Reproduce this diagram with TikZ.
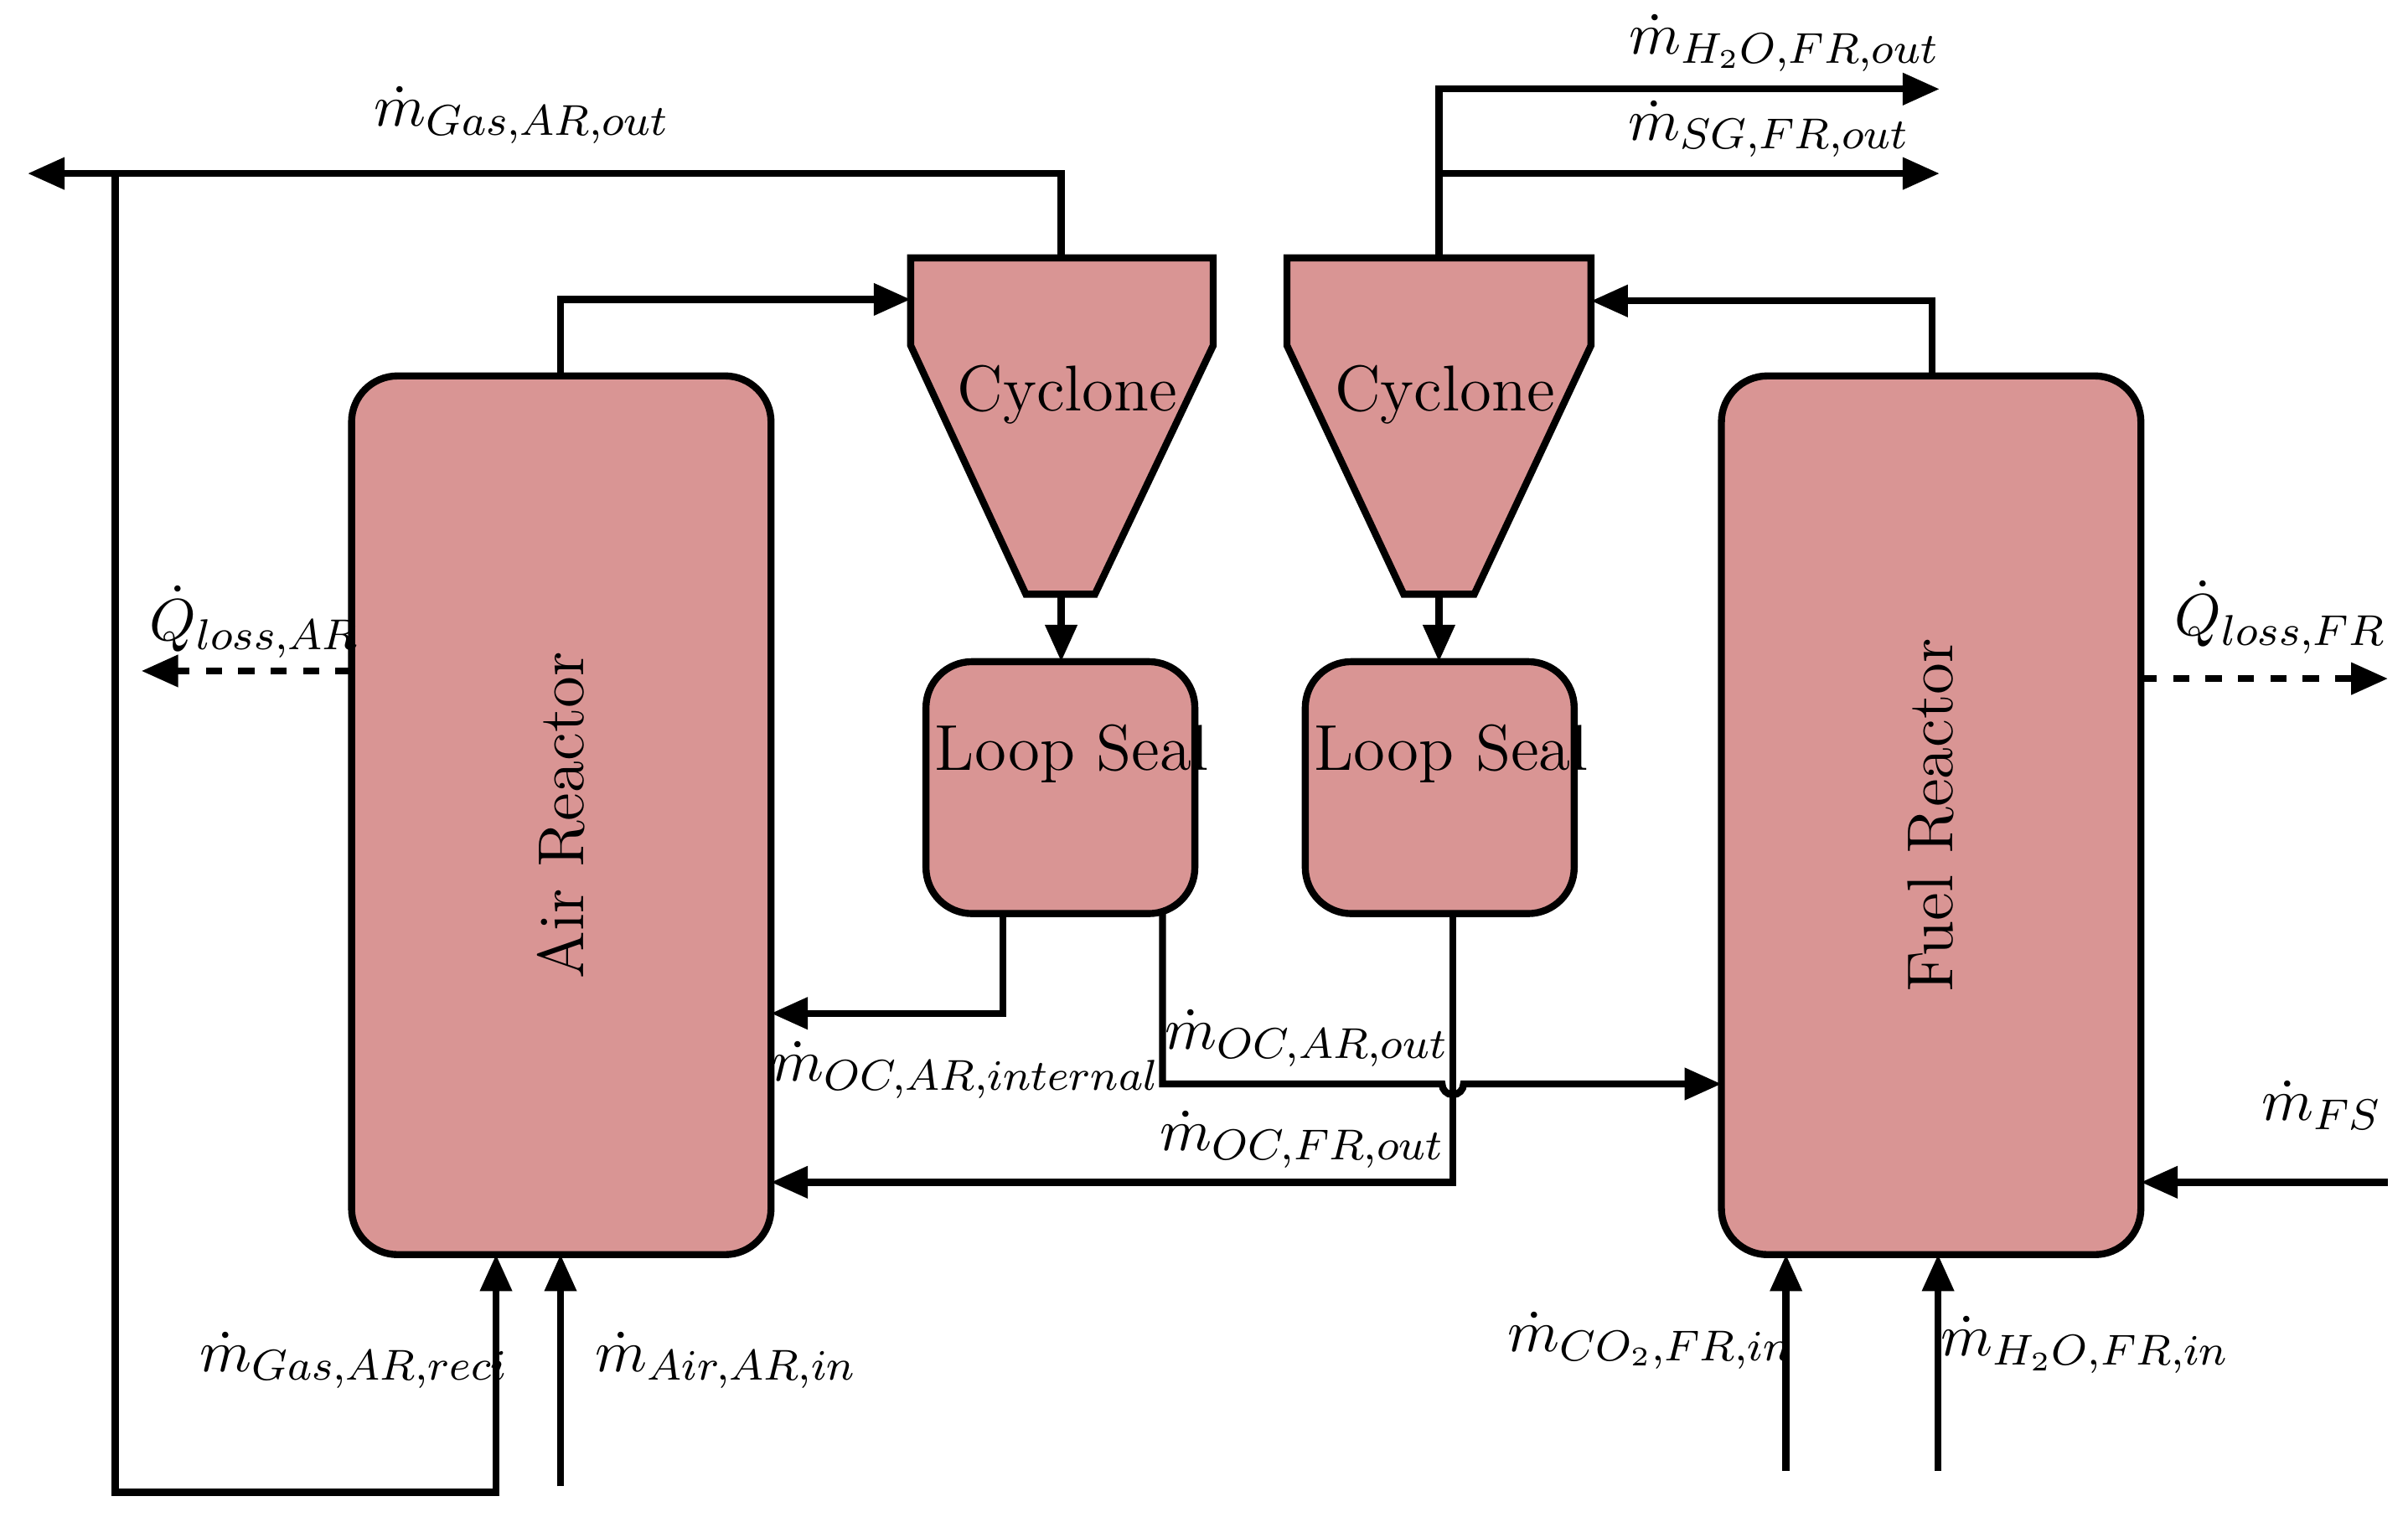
\documentclass[tikz,border=0pt]{standalone}
\usepackage{amsmath}
\usetikzlibrary{arrows.meta}
\begin{document}
\begin{tikzpicture}[x=0.01cm,y=-0.01cm,
  blk/.style={draw,line width=1.3pt,fill=rc,rounded corners=0.3cm},
  ln/.style={line width=1.3pt},
  ar/.style={line width=1.3pt,-{Triangle[length=0.24cm,width=0.2cm]}},
  lb/.style={font=\fontsize{11}{13}\selectfont},
  tx/.style={font=\fontsize{12}{14}\selectfont}]
\definecolor{rc}{HTML}{D99594}
\useasboundingbox (0,0) rectangle (1568,988);
% reactors
\node[blk,minimum width=2.73cm,minimum height=5.72cm] (AR) at (365.5,531) {};
\node[tx,rotate=90] at (AR) {Air Reactor};
\node[blk,minimum width=2.73cm,minimum height=5.72cm] (FR) at (1257.5,531) {};
\node[tx,rotate=90] at (FR) {Fuel Reactor};
% cyclones
\draw[ln,fill=rc] (593,168) -- (790,168) -- (790,225) -- (713,387) -- (668,387) -- (593,225) -- cycle;
\node[tx] (C1) at (695,257) {Cyclone};
\draw[ln,fill=rc] (838,168) -- (1036,168) -- (1036,225) -- (960,387) -- (914,387) -- (838,225) -- cycle;
\node[tx] (C2) at (941,257) {Cyclone};
\coordinate (c1t) at (691,168); \coordinate (c1b) at (691,387);
\coordinate (c2t) at (937,168); \coordinate (c2b) at (937,387);
% loop seals
\node[blk,minimum width=1.75cm,minimum height=1.64cm] (L1) at (690.5,513) {};
\node[tx] at (698,491) {Loop Seal};
\node[blk,minimum width=1.75cm,minimum height=1.64cm] (L2) at (937.5,513) {};
\node[tx] at (945,491) {Loop Seal};
% connectors
\draw[ar] (365,245) |- (593,195);
\draw[ar] (c1t) |- (18,113);
\draw[ar] (75,113) |- (323,972) -- (323,817);
\draw[ar] (365,968) -- (365,817);
\draw[ar] (c1b) -- (691,431);
\draw[ar] (c2b) -- (937,431);
\draw[ar] (653,595) |- (502,660);
\draw[ar] (757,595) |- (939,706) arc (180:0:7) -- (1121,706);
\draw[ar] (946,595) |- (502,770);
\draw[ar] (1258,245) |- (1036,196);
\draw[ar] (c2t) |- (1263,58);
\draw[ar] (937,113) -- (1263,113);
\draw[ar,dashed] (229,437) -- (92,437);
\draw[ar,dashed] (1394,442) -- (1555,442);
\draw[ar] (1555,770) -- (1394,770);
\draw[ar] (1163,958) -- (1163,817);
\draw[ar] (1262,958) -- (1262,817);
% labels
\node[lb] at (340,75) {$\dot m_{Gas,AR,out}$};
\node[lb] at (1162,28) {$\dot m_{H_2O,FR,out}$};
\node[lb] at (1152,84) {$\dot m_{SG,FR,out}$};
\node[lb] at (166,405) {$\dot Q_{loss,AR}$};
\node[lb] at (1485,402) {$\dot Q_{loss,FR}$};
\node[lb] at (629,697) {$\dot m_{OC,AR,internal}$};
\node[lb] at (851,676) {$\dot m_{OC,AR,out}$};
\node[lb] at (848,742) {$\dot m_{OC,FR,out}$};
\node[lb] at (1512,720) {$\dot m_{FS}$};
\node[lb] at (231,886) {$\dot m_{Gas,AR,reci}$};
\node[lb] at (473,886) {$\dot m_{Air,AR,in}$};
\node[lb] at (1075,873) {$\dot m_{CO_2,FR,in}$};
\node[lb] at (1358,876) {$\dot m_{H_2O,FR,in}$};
\end{tikzpicture}
\end{document}
